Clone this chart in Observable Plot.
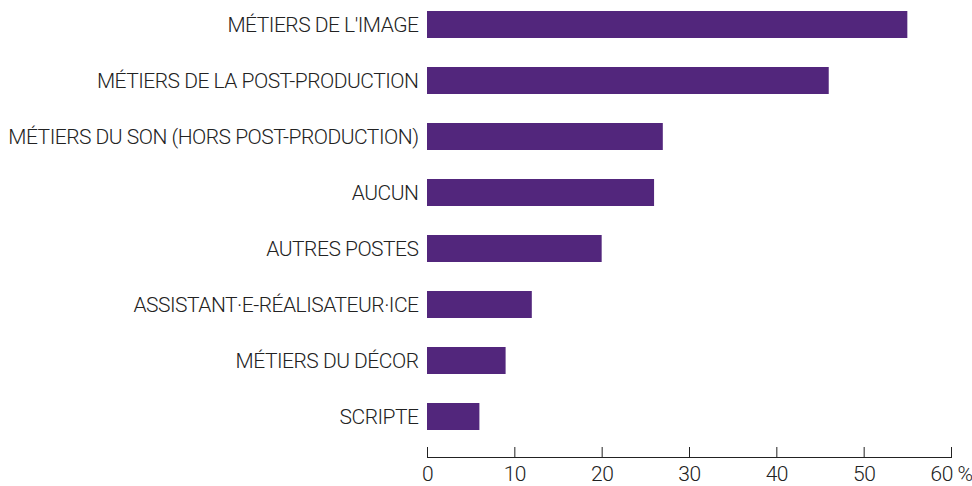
<!DOCTYPE html>
<html>
<head>
<meta charset="utf-8">
<script src="https://cdn.jsdelivr.net/npm/d3@7"></script>
<script src="https://cdn.jsdelivr.net/npm/@observablehq/plot@0.6"></script>
<style>
  html, body { margin: 0; padding: 0; background: #fff; }
  #chart svg { font-family: Roboto, "Noto Sans", sans-serif; font-weight: 300; }
  #chart svg text { letter-spacing: -0.5px; }
</style>
</head>
<body>
<div id="chart"></div>
<script>
const categories = [
  "MÉTIERS DE L'IMAGE",
  "MÉTIERS DE LA POST-PRODUCTION",
  "MÉTIERS DU SON (HORS POST-PRODUCTION)",
  "AUCUN",
  "AUTRES POSTES",
  "ASSISTANT·E-RÉALISATEUR·ICE",
  "MÉTIERS DU DÉCOR",
  "SCRIPTE"
];
const values = [55, 46, 27, 26, 20, 12, 9, 6];
const xTicks = [0, 10, 20, 30, 40, 50, 60];
const xTickLabels = ["0", "10", "20", "30", "40", "50", "60 %"];

const data = categories.map((c, i) => ({category: c, value: values[i]}));

const chart = Plot.plot({
  width: 972,
  height: 486,
  marginLeft: 427,
  marginRight: 21,
  marginTop: 0,
  marginBottom: 29,
  style: {fontSize: "21px", color: "#222", background: "#fff"},
  x: {domain: [0, 60]},
  y: {domain: categories, range: [0, 441], paddingInner: 0.52, paddingOuter: 0.178},
  marks: [
    Plot.barX(data, {x: "value", y: "category", fill: "#52267c"}),
    Plot.axisY({tickSize: 0, tickPadding: 9, label: null, fontSize: 21}),
    Plot.axisX({
      ticks: xTicks,
      tickFormat: (d) => xTickLabels[xTicks.indexOf(d)],
      tickSize: -10,
      tickPadding: 19,
      label: null,
      fontSize: 21,
      stroke: "#222"
    }),
    Plot.frame({anchor: "bottom", stroke: "#222"})
  ]
});
document.getElementById("chart").appendChild(chart);
</script>
</body>
</html>
